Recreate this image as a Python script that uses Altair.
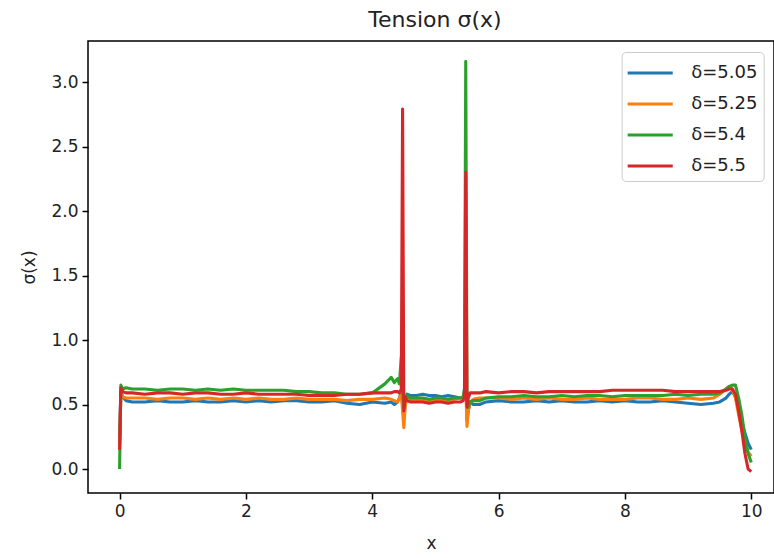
import altair as alt
import pandas as pd

# ---- data ----
X = [0.0, 0.02, 0.05, 0.1,
     0.2, 0.4, 0.6, 0.8, 1.0, 1.2, 1.4, 1.6, 1.8, 2.0, 2.2, 2.4, 2.6, 2.8, 3.0, 3.2, 3.4, 3.6, 3.8, 4.0, 4.2,
     4.3, 4.35, 4.4, 4.43, 4.46, 4.48, 4.5, 4.52, 4.55, 4.6,
     4.7, 4.8, 4.9, 5.0, 5.1, 5.2, 5.3, 5.4,
     5.44, 5.46, 5.48, 5.5, 5.52, 5.55, 5.6,
     5.7, 5.8, 6.0, 6.2, 6.4, 6.6, 6.8, 7.0, 7.2, 7.4, 7.6, 7.8, 8.0, 8.2, 8.4, 8.6, 8.8, 9.0, 9.2, 9.4,
     9.5, 9.6, 9.65, 9.7, 9.75, 9.8, 9.85, 9.9, 9.95, 10.0]

BLUE = [0.25, 0.60, 0.56, 0.53,
        0.52, 0.52, 0.53, 0.52, 0.52, 0.53, 0.52, 0.52, 0.53, 0.52, 0.53, 0.52, 0.53, 0.53, 0.52, 0.52, 0.53, 0.51, 0.50, 0.52, 0.51,
        0.52, 0.50, 0.52, 0.55, 0.60, 0.50, 0.38, 0.50, 0.58, 0.57,
        0.57, 0.58, 0.57, 0.57, 0.56, 0.57, 0.56, 0.55,
        0.56, 0.62, 0.70, 0.38, 0.45, 0.52, 0.50,
        0.50, 0.52, 0.53, 0.52, 0.52, 0.53, 0.52, 0.53, 0.52, 0.52, 0.53, 0.52, 0.53, 0.52, 0.52, 0.53, 0.52, 0.51, 0.50, 0.51,
        0.52, 0.55, 0.58, 0.60, 0.56, 0.46, 0.36, 0.28, 0.20, 0.15]

ORANGE = [0.20, 0.58, 0.56, 0.55,
          0.55, 0.55, 0.54, 0.55, 0.55, 0.54, 0.55, 0.54, 0.55, 0.54, 0.55, 0.54, 0.54, 0.55, 0.54, 0.54, 0.54, 0.53, 0.54, 0.54, 0.55,
          0.54, 0.53, 0.52, 0.55, 0.58, 0.45, 0.32, 0.48, 0.56, 0.54,
          0.54, 0.54, 0.53, 0.54, 0.54, 0.53, 0.54, 0.55,
          0.56, 0.60, 0.66, 0.33, 0.45, 0.52, 0.54,
          0.55, 0.55, 0.55, 0.54, 0.55, 0.54, 0.55, 0.54, 0.54, 0.55, 0.54, 0.54, 0.54, 0.55, 0.55, 0.54, 0.54, 0.55, 0.54, 0.55,
          0.58, 0.62, 0.64, 0.62, 0.55, 0.42, 0.30, 0.20, 0.13, 0.10]

GREEN = [0.00, 0.65, 0.62, 0.63,
         0.62, 0.62, 0.61, 0.62, 0.62, 0.61, 0.62, 0.61, 0.62, 0.61, 0.61, 0.61, 0.61, 0.60, 0.60, 0.59, 0.59, 0.58, 0.58, 0.59, 0.66,
         0.71, 0.67, 0.70, 0.66, 0.87, 0.60, 0.48, 0.55, 0.57, 0.55,
         0.55, 0.55, 0.54, 0.55, 0.55, 0.54, 0.55, 0.55,
         0.56, 0.60, 3.16, 0.50, 0.48, 0.52, 0.53,
         0.53, 0.55, 0.56, 0.56, 0.57, 0.56, 0.56, 0.57, 0.56, 0.57, 0.57, 0.56, 0.57, 0.57, 0.57, 0.57, 0.58, 0.57, 0.58, 0.58,
         0.59, 0.62, 0.64, 0.65, 0.65, 0.55, 0.42, 0.25, 0.12, 0.05]

RED = [0.15, 0.63, 0.60, 0.59,
       0.59, 0.58, 0.59, 0.59, 0.58, 0.59, 0.59, 0.58, 0.58, 0.59, 0.58, 0.58, 0.58, 0.58, 0.57, 0.57, 0.57, 0.58, 0.58, 0.59, 0.59,
       0.59, 0.60, 0.60, 0.59, 0.62, 2.79, 0.45, 0.56, 0.53, 0.52,
       0.52, 0.52, 0.51, 0.52, 0.52, 0.51, 0.52, 0.52,
       0.53, 0.56, 2.30, 0.48, 0.55, 0.59, 0.59,
       0.59, 0.60, 0.59, 0.60, 0.60, 0.59, 0.60, 0.60, 0.60, 0.60, 0.60, 0.61, 0.61, 0.61, 0.61, 0.61, 0.60, 0.60, 0.60, 0.60,
       0.60, 0.61, 0.62, 0.62, 0.58, 0.45, 0.30, 0.12, 0.00, -0.02]

SERIES = ["δ=5.05", "δ=5.25", "δ=5.4", "δ=5.5"]
COLORS = ["#1f77b4", "#ff7f0e", "#2ca02c", "#d62728"]
X_TICKS = [0, 2, 4, 6, 8, 10]
Y_TICKS = [0.0, 0.5, 1.0, 1.5, 2.0, 2.5, 3.0]

rows = []
for k, (name, ys) in enumerate(zip(SERIES, [BLUE, ORANGE, GREEN, RED])):
    for xv, yv in zip(X, ys):
        rows.append({"x": xv, "sigma": yv, "delta": name, "k": k})
df = pd.DataFrame(rows)

FONT = "DejaVu Sans"

chart = alt.Chart(df).mark_line(strokeWidth=3.1, strokeJoin="round", clip=True).encode(
    x=alt.X("x:Q",
            scale=alt.Scale(domain=[-0.5, 10.36], nice=False, zero=False),
            axis=alt.Axis(values=X_TICKS, format="d", title="x")),
    y=alt.Y("sigma:Q",
            scale=alt.Scale(domain=[-0.186, 3.318], nice=False, zero=False),
            axis=alt.Axis(values=Y_TICKS, format=".1f", title="σ(x)")),
    color=alt.Color("delta:N",
                    scale=alt.Scale(domain=SERIES, range=COLORS),
                    sort=SERIES,
                    legend=alt.Legend(title=None, orient="none", legendX=533.7, legendY=11,
                                      symbolType="M-1.67,0L1.67,0", symbolSize=729,
                                      symbolStrokeWidth=2.8, symbolOffset=7.5,
                                      labelOffset=26, labelFontSize=18, labelFont=FONT,
                                      labelColor="#222222", rowPadding=7, padding=6,
                                      strokeColor="#cccccc", fillColor="rgba(255,255,255,0.8)",
                                      cornerRadius=4)),
    order=alt.Order("k:Q"),
).properties(
    width=686,
    height=452,
    autosize=alt.AutoSizeParams(type="none"),
    padding={"left": 88, "top": 41, "right": 0, "bottom": 65},
    background="white",
    title=alt.TitleParams("Tension σ(x)", font=FONT, fontSize=22, fontWeight="normal",
                          color="#222222", offset=9, anchor="middle", dx=4),
).configure_view(
    stroke="black", strokeWidth=1.5
).configure_axis(
    domain=False, grid=False, ticks=True, tickColor="black", tickWidth=1.5, tickSize=6,
    labelFont=FONT, labelFontSize=17, labelColor="#222222", labelPadding=4,
    titleFont=FONT, titleFontSize=17, titleFontWeight="normal", titleColor="#222222",
).configure_axisY(titlePadding=12).configure_axisX(titlePadding=16)

chart.save("out.html", embed_options={"renderer": "svg", "actions": False})
